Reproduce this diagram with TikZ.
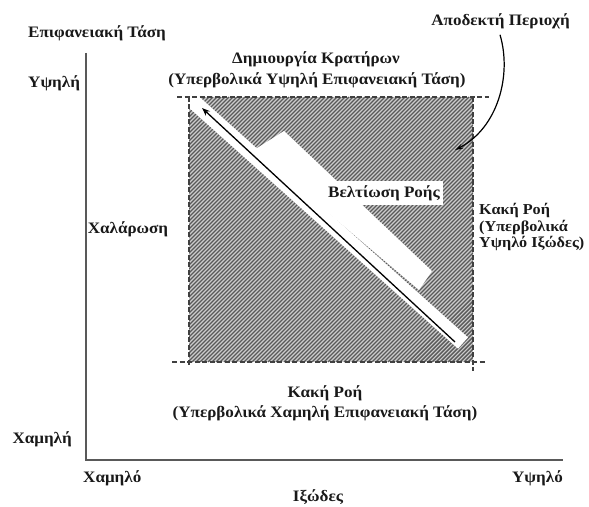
\documentclass[tikz,border=0pt]{standalone}
\usepackage{fontspec}
\setmainfont[FakeStretch=1.07]{Liberation Serif}
\usetikzlibrary{arrows.meta}
\begin{document}
\begin{tikzpicture}[x=1bp,y=-1bp,
  lbl/.style={font=\bfseries\fontsize{16}{17}\selectfont, inner sep=0pt, text=black!90},
  axisline/.style={draw=black!65, line width=2bp},
  dashline/.style={draw=black!75, line width=1.8bp, dash pattern=on 5bp off 2.5bp},
  hatchbg/.style={fill=black!20},
  hatchline/.style={draw=black!65, line width=1.4bp},
  whitezone/.style={fill=white, draw=none},
  band/.style={draw=white, line width=15bp},
  pointer/.style={draw=black, line width=1.3bp, -{Stealth[length=8bp,width=6bp]}}]
\useasboundingbox (0,0) rectangle (589,507);

% hatched acceptable region
\begin{scope}
  \clip (189,97) rectangle (473,362);
  \fill[hatchbg] (189,97) rectangle (473,362);
  \foreach \c in {286,290,...,838} \draw[hatchline] ({\c-362},362) -- ({\c-97},97);
  % white improvement zone
  \fill[whitezone] (254,150) -- (284,131) -- (432,271) -- (419,290) -- cycle;
  \draw[band] (186,95) -- (463,343);
\end{scope}

% dashed borders
\coordinate (tl0) at (177,97);  \coordinate (tr0) at (489,97);
\coordinate (bl0) at (172,362); \coordinate (br0) at (487,362);
\coordinate (lt) at (189,97);   \coordinate (lb) at (189,366);
\coordinate (rt) at (473,97);   \coordinate (rb) at (473,371);
\draw[dashline] (tl0) -- (tr0);
\draw[dashline] (bl0) -- (br0);
\draw[dashline] (lt) -- (lb);
\draw[dashline] (rt) -- (rb);

% axes
\coordinate (ytop) at (86,53);
\coordinate (O) at (86,460);
\coordinate (xend) at (563,460);
\draw[axisline] (ytop) -- (O) -- (xend);

% improvement arrow
\coordinate (arrS) at (455,342);
\coordinate (arrE) at (202,108);
\draw[pointer] (arrS) -- (arrE);

% labels
\node[lbl, anchor=west] (ylab) at (28,33) {Επιφανειακή Τάση};
\node[lbl, anchor=east] (acc) at (570,21) {Αποδεκτή Περιοχή};
\node[lbl] (crat1) at (316,59) {Δημιουργία Κρατήρων};
\node[lbl] (crat2) at (317,80) {(Υπερβολικά Υψηλή Επιφανειακή Τάση)};
\node[lbl, anchor=west] (yhigh) at (28,83) {Υψηλή};
\node[lbl, anchor=east] (ylow) at (72,439) {Χαμηλή};
\node[lbl, anchor=west] (xlow) at (83,478) {Χαμηλό};
\node[lbl, anchor=east] (xhigh) at (563,478) {Υψηλό};
\node[lbl] (xlab) at (318,497) {Ιξώδες};
\node[lbl] (relax) at (128,229) {Χαλάρωση};
\node[lbl, fill=white, inner xsep=3bp, inner ysep=4bp] (impr) at (384,193) {Βελτίωση Ροής};
\node[lbl, anchor=west, align=left, font=\bfseries\fontsize{15.2}{17}\selectfont] (badhi) at (479,227) {Κακή Ροή\\(Υπερβολικά\\Υψηλό Ιξώδες)};
\node[lbl] (badlo1) at (325,393) {Κακή Ροή};
\node[lbl] (badlo2) at (325,413) {(Υπερβολικά Χαμηλή Επιφανειακή Τάση)};

% acceptable-region pointer
\coordinate (accTip) at (455,150);
\draw[draw=black, line width=1.2bp, -{Stealth[length=8bp,width=5bp]}]
  (acc.south -| 500,0) ++(0,6) .. controls (512,75) and (498,128) .. (accTip);
\end{tikzpicture}
\end{document}
